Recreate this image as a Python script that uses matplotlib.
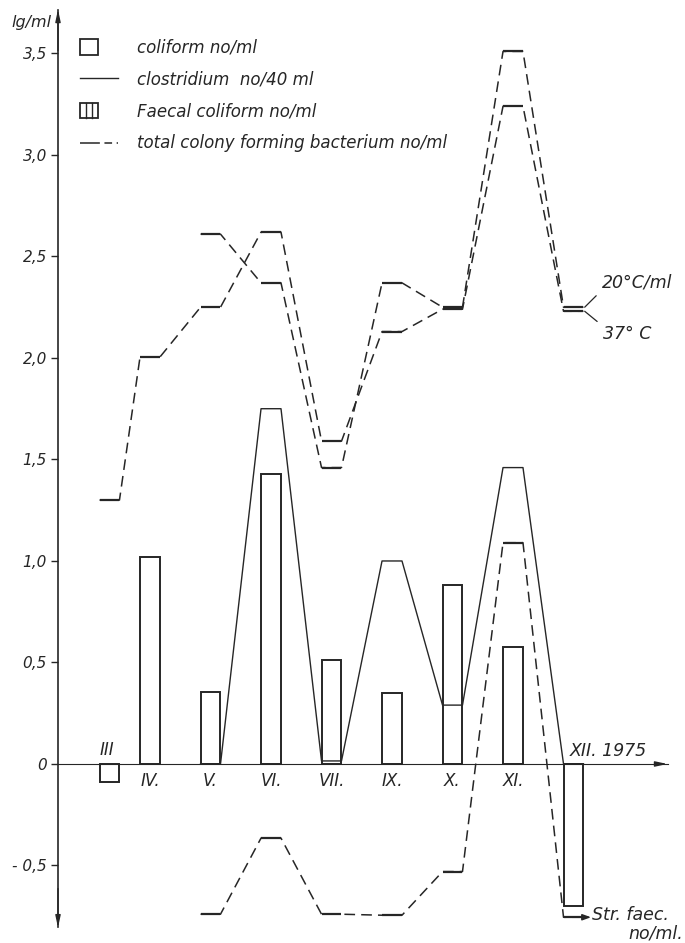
import matplotlib
matplotlib.use('Agg')
import matplotlib.pyplot as plt
from matplotlib.lines import Line2D
from matplotlib.patches import Rectangle
import numpy as np

# ------- data (lg/ml) -------- #
months = ['III', 'IV', 'V', 'VI', 'VII', 'IX', 'X', 'XI', 'XII']
month_x = [0.33, 1, 2, 3, 4, 5, 6, 7, 8]

coliform = [-0.09, 1.02, 0.355, 1.43, 0.51, 0.35, 0.88, 0.575, -0.70]
clostridium = [np.nan, np.nan, 0.0, 1.75, 0.015, 1.0, 0.29, 1.46, 0.0]
colony_37 = [1.30, 2.005, 2.25, 2.62, 1.59, 2.13, 2.24, 3.24, 2.23]
colony_20 = [np.nan, np.nan, 2.61, 2.37, 1.46, 2.37, 2.25, 3.51, 2.25]
str_faec = [np.nan, np.nan, -0.74, -0.365, -0.74, -0.745, -0.53, 1.09, -0.755]

yticks = [3.5, 3.0, 2.5, 2.0, 1.5, 1.0, 0.5, 0, -0.5]
ytick_labels = ['3,5', '3,0', '2,5', '2,0', '1,5', '1,0', '0,5', '0', '- 0,5']

legend_labels = ['coliform no/ml', 'clostridium  no/40 ml',
                 'Faecal coliform no/ml', 'total colony forming bacterium no/ml']

# ------ figure ------- #
W, H = 685, 943
ink = '#262626'
bw = 0.33

fig = plt.figure(figsize=(W / 100, H / 100), dpi=100)
fig.patch.set_facecolor('white')
ax = fig.add_axes([58 / W, 16 / H, (W - 58) / W, 917 / H])
x0, x1 = -0.521, 9.843
ax.set_xlim(x0, x1)
ax.set_ylim(-0.803, 3.714)
ax.patch.set_alpha(0)


def plateau_xy(xs, ys, w):
    # every value is drawn as a short flat step over the bar width
    px, py = [], []
    for xv, yv in zip(xs, ys):
        if np.isnan(yv):
            continue
        px += [xv - w / 2, xv + w / 2]
        py += [yv, yv]
    return px, py


x = np.array(month_x, dtype=float)

# coliform bars
ax.bar(x, coliform, width=bw, fill=False, edgecolor=ink, linewidth=1.4)

# clostridium (solid)
px, py = plateau_xy(x, clostridium, bw)
ax.plot(px, py, color=ink, lw=1.0)

# dashed series with solid steps
for series in (colony_37, colony_20, str_faec):
    px, py = plateau_xy(x, series, bw)
    ax.plot(px, py, color=ink, lw=1.1, dashes=(7, 4))
    ys = np.array(series)
    ok = ~np.isnan(ys)
    ax.hlines(ys[ok], x[ok] - bw / 2, x[ok] + bw / 2, color=ink, lw=1.6)

# axes
for s in ['top', 'right']:
    ax.spines[s].set_visible(False)
ax.spines['bottom'].set_position(('data', 0))
ax.spines['bottom'].set_bounds(x0, 9.56)
ax.spines['bottom'].set_color(ink)
ax.spines['left'].set_color(ink)
ax.spines['left'].set_linewidth(1.2)
ax.set_xticks([])
ax.set_yticks(yticks)
ax.set_yticklabels(ytick_labels, fontstyle='italic', fontsize=11, color=ink)
ax.tick_params(axis='y', length=5, width=1, pad=3, direction='out', colors=ink)

arrow = dict(arrowstyle='-|>,head_length=0.7,head_width=0.15', color=ink, lw=1)
ax.annotate('', xy=(x0, 3.73), xytext=(x0, 3.5), arrowprops=arrow, annotation_clip=False)
ax.annotate('', xy=(x0, -0.82), xytext=(x0, -0.6), arrowprops=arrow, annotation_clip=False)
ax.annotate('', xy=(9.6, 0), xytext=(9.3, 0), arrowprops=arrow, annotation_clip=False)

# month labels
for m, xv in zip(months, month_x):
    if m == 'III':
        ax.text(xv - 0.05, 0.025, m, ha='center', va='bottom', fontsize=12,
                fontstyle='italic', color=ink)
    elif m == 'XII':
        ax.text(xv - 0.06, 0.02, m + '. 1975', ha='left', va='bottom', fontsize=12.5,
                fontstyle='italic', color=ink)
    else:
        ax.text(xv, -0.04, m + '.', ha='center', va='top', fontsize=12,
                fontstyle='italic', color=ink)

# temperature labels at XII
xr = month_x[-1] + bw / 2
ax.annotate('20°C/ml', xy=(xr + 0.02, colony_20[-1]), xytext=(8.47, 2.37),
            fontsize=12.5, fontstyle='italic', color=ink, va='center',
            arrowprops=dict(arrowstyle='-', color=ink, lw=0.9, relpos=(0, 0.1),
                            shrinkA=3, shrinkB=0))
ax.annotate('37° C', xy=(xr + 0.02, colony_37[-1]), xytext=(8.49, 2.12),
            fontsize=12.5, fontstyle='italic', color=ink, va='center',
            arrowprops=dict(arrowstyle='-', color=ink, lw=0.9, relpos=(0, 0.9),
                            shrinkA=3, shrinkB=0))

# Str. faec. label
ax.annotate('', xy=(8.29, str_faec[-1]), xytext=(xr, str_faec[-1]),
            arrowprops=dict(arrowstyle='-|>,head_length=0.5,head_width=0.18',
                            color=ink, lw=1.1, shrinkA=0, shrinkB=0))
ax.text(8.31, -0.744, 'Str. faec.', ha='left', va='center', fontsize=12.5,
        fontstyle='italic', color=ink)
ax.text(9.81, -0.835, 'no/ml.', ha='right', va='center', fontsize=12.5,
        fontstyle='italic', color=ink)

# y-axis unit
fig.text(52 / W, 1 - 23 / H, 'lg/ml', ha='right', va='center', fontsize=11.5,
         fontstyle='italic', color=ink)


# ---- hand drawn key ---- #
def fx(p):
    return p / W


def fy(p):
    return 1 - p / H


rows = [47, 79, 112, 143]
fig.add_artist(Rectangle((fx(80), fy(55)), 18 / W, 16 / H, fill=False,
                         edgecolor=ink, lw=1.3, transform=fig.transFigure))
fig.add_artist(Line2D([fx(80), fx(118)], [fy(78), fy(78)], color=ink, lw=1.0,
                      transform=fig.transFigure))
fig.add_artist(Rectangle((fx(80), fy(118)), 18 / W, 15 / H, fill=False,
                         edgecolor=ink, lw=1.3, transform=fig.transFigure))
for hx in (86, 92):
    fig.add_artist(Line2D([fx(hx), fx(hx)], [fy(118), fy(103)], color=ink, lw=1.0,
                          transform=fig.transFigure))
fig.add_artist(Line2D([fx(80), fx(118)], [fy(143), fy(143)], color=ink, lw=1.1,
                      dashes=(13, 3, 5, 3, 5, 3), transform=fig.transFigure))
for lab, ry in zip(legend_labels, rows):
    fig.text(fx(137), fy(ry), lab, ha='left', va='center', fontsize=12,
             fontstyle='italic', color=ink)

fig.savefig('out.png', dpi=100, facecolor='white')
